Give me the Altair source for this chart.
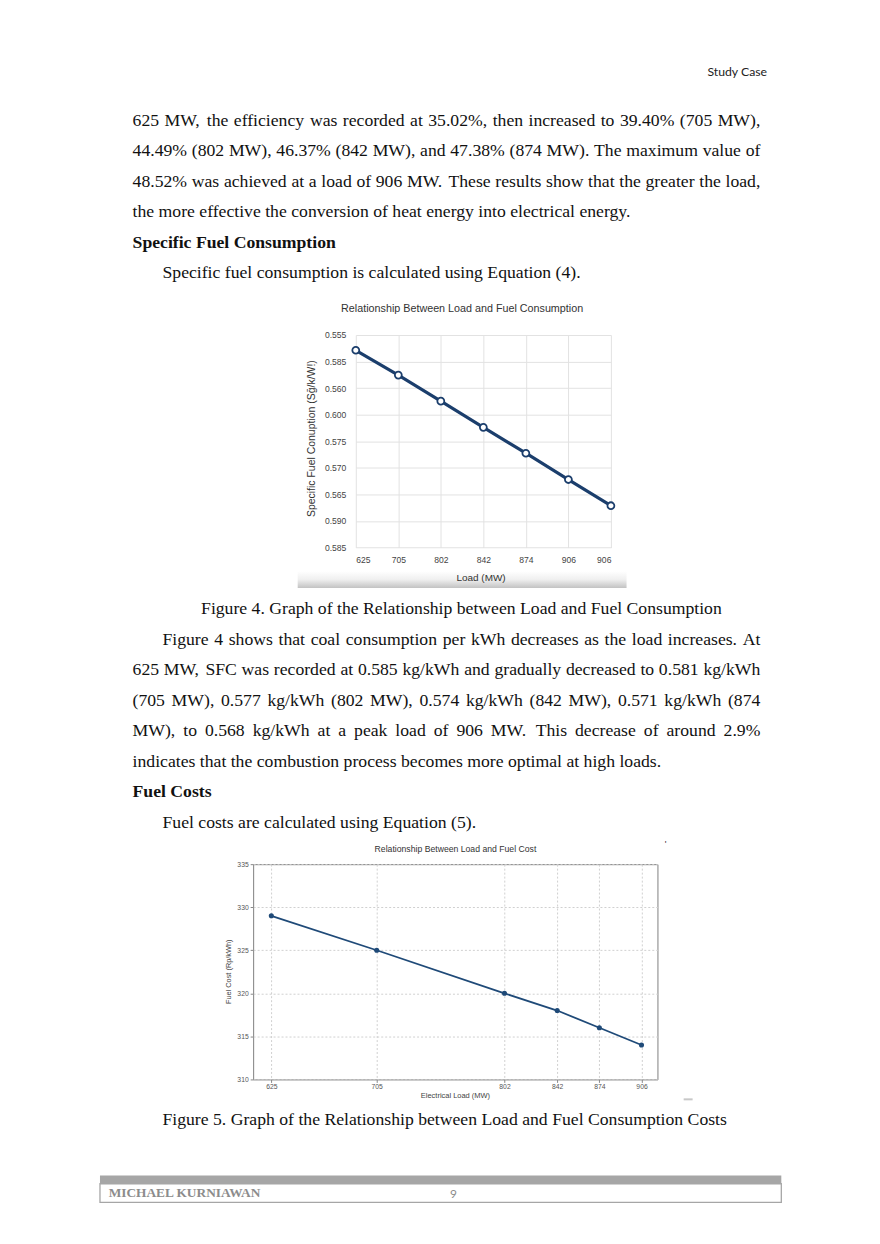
import json
import altair as alt
import pandas as pd

# ---------------- data ----------------
fig4_x_labels = ["625", "705", "802", "842", "874", "906", "906"]
fig4_y_labels = ["0.555", "0.585", "0.560", "0.600", "0.575", "0.570", "0.565", "0.590", "0.585"]
fig4_point_slot = [0.575, 1.51, 2.49, 3.475, 4.45, 5.44, 6.425]   # position in y-tick slots from top

fig5_load = [625, 705, 802, 842, 874, 906]
fig5_cost = [329, 325, 320, 318, 316, 314]
fig5_y_ticks = [310, 315, 320, 325, 330, 335]

para1 = [
    "625 MW, the efficiency was recorded at 35.02%, then increased to 39.40% (705 MW),",
    "44.49% (802 MW), 46.37% (842 MW), and 47.38% (874 MW). The maximum value of",
    "48.52% was achieved at a load of 906 MW. These results show that the greater the load,",
    "the more effective the conversion of heat energy into electrical energy.",
]
head1 = "Specific Fuel Consumption"
intro1 = "Specific fuel consumption is calculated using Equation (4)."
caption4 = "Figure 4. Graph of the Relationship between Load and Fuel Consumption"
para2 = [
    "Figure 4 shows that coal consumption per kWh decreases as the load increases. At",
    "625 MW, SFC was recorded at 0.585 kg/kWh and gradually decreased to 0.581 kg/kWh",
    "(705 MW), 0.577 kg/kWh (802 MW), 0.574 kg/kWh (842 MW), 0.571 kg/kWh (874",
    "MW), to 0.568 kg/kWh at a peak load of 906 MW. This decrease of around 2.9%",
    "indicates that the combustion process becomes more optimal at high loads.",
]
head2 = "Fuel Costs"
intro2 = "Fuel costs are calculated using Equation (5)."
caption5 = "Figure 5. Graph of the Relationship between Load and Fuel Consumption Costs"
header_text = "Study Case"
footer_name = "MICHAEL KURNIAWAN"
page_no = "9"

# ---------------- text layout helpers ----------------
TNR = {' ': 250, '!': 333, '%': 833, '(': 333, ')': 333, ',': 250, '-': 333, '.': 250, '/': 278, ':': 278,
       'A': 722, 'B': 667, 'C': 667, 'D': 722, 'E': 611, 'F': 556, 'G': 722, 'H': 722, 'I': 333, 'J': 389,
       'K': 722, 'L': 611, 'M': 889, 'N': 722, 'O': 722, 'P': 556, 'Q': 722, 'R': 667, 'S': 556, 'T': 611,
       'U': 722, 'V': 722, 'W': 944, 'X': 722, 'Y': 722, 'Z': 611,
       'a': 444, 'b': 500, 'c': 444, 'd': 500, 'e': 444, 'f': 333, 'g': 500, 'h': 500, 'i': 278, 'j': 278,
       'k': 500, 'l': 278, 'm': 778, 'n': 500, 'o': 500, 'p': 500, 'q': 500, 'r': 333, 's': 389, 't': 278,
       'u': 500, 'v': 500, 'w': 722, 'x': 500, 'y': 500, 'z': 444}
FS = 17.75
LEFT, INDENT, RIGHT = 130.0, 160.0, 760.0
PITCH = 30.6


def tw(s, size=FS):
    return sum(TNR.get(c, 500) for c in s) * size / 1000.0


def words_rows(line, x0, x1, y, justify):
    if not justify:
        return [{'px': x0, 'py': y, 't': line}]
    words = line.split(' ')
    widths = [tw(w) for w in words]
    gap = (x1 - x0 - sum(widths)) / (len(words) - 1)
    rows, x = [], x0
    for w, wd in zip(words, widths):
        rows.append({'px': x, 'py': y, 't': w})
        x += wd + gap
    return rows


def local(rows, ox, oy):
    return pd.DataFrame([{'px': r['px'] - ox, 'py': r['py'] - oy, 't': r['t']} for r in rows])


def text_layer(df, size=FS, weight='normal', font='Liberation Serif', color='#111111', align='left'):
    return alt.Chart(df).mark_text(align=align, baseline='alphabetic', font=font, fontSize=size,
                                   fontWeight=weight, color=color).encode(
        x=alt.X('px:Q', scale=None, axis=None), y=alt.Y('py:Q', scale=None, axis=None), text='t:N')


one = pd.DataFrame({'k': [0]})


def rect(x, x2, y, y2, **kw):
    return alt.Chart(one).mark_rect(**kw).encode(x=alt.value(x), x2=alt.value(x2), y=alt.value(y), y2=alt.value(y2))


def label(txt, x, y, size, font='Liberation Sans', color='#333333', angle=0):
    return alt.Chart(pd.DataFrame({'t': [txt]})).mark_text(
        font=font, fontSize=size, color=color, align='center', baseline='middle', angle=angle).encode(
        text='t:N', x=alt.value(x), y=alt.value(y))


# page geometry (page px)
M = 8.0
F4_L, F4_R, F4_T, F4_B = 353.3, 609.3, 334.0, 547.3
F5_L, F5_R, F5_T, F5_B = 251.0, 656.7, 865.0, 1081.0
PAGE_W = 864

# ---------------- Section A ----------------
oyA = M
rowsA, boldA = [], []
y = 124.0
for i, ln in enumerate(para1):
    rowsA += words_rows(ln, LEFT, RIGHT, y, i < len(para1) - 1)
    y += PITCH
boldA += words_rows(head1, LEFT, RIGHT, y, False)
y += PITCH
rowsA += words_rows(intro1, INDENT, RIGHT, y, False)

secA = alt.layer(
    text_layer(local(rowsA, M, oyA)),
    text_layer(local(boldA, M, oyA), weight='bold'),
    text_layer(pd.DataFrame({'px': [766.7 - M], 'py': [74 - oyA], 't': [header_text]}),
               size=12.3, font='Lato', color='#222222', align='right'),
).properties(width=PAGE_W, height=F4_T - M)

# ---------------- Figure 4 ----------------
navy4 = '#1b3e6c'
df4 = pd.DataFrame({'i': list(range(len(fig4_x_labels))), 'slot': fig4_point_slot})
xl4 = json.dumps(fig4_x_labels)
yl4 = json.dumps(fig4_y_labels)
base4 = alt.Chart(df4).encode(
    x=alt.X('i:Q', scale=alt.Scale(domain=[0, len(fig4_x_labels) - 1], nice=False, zero=False),
            axis=alt.Axis(values=list(range(len(fig4_x_labels))), labelExpr=f"{xl4}[datum.value]",
                          title=None, domain=False, ticks=False, grid=True, gridColor='#e2e2e2',
                          labelFont='Liberation Sans', labelFontSize=8.6, labelColor='#444444', labelPadding=8)),
    y=alt.Y('slot:Q', scale=alt.Scale(domain=[0, len(fig4_y_labels) - 1], reverse=True, nice=False, zero=False),
            axis=alt.Axis(values=list(range(len(fig4_y_labels))), labelExpr=f"{yl4}[datum.value]",
                          title=None, domain=False, ticks=False, grid=True,
                          gridColor='#e2e2e2', labelFont='Liberation Sans', labelFontSize=8.6,
                          labelColor='#444444', labelPadding=10)),
)
band4 = rect(295 - F4_L, 625 - F4_L, 571 - F4_T, 588 - F4_T,
             color=alt.LinearGradient(gradient='linear', x1=0, y1=0, x2=0, y2=1,
                                      stops=[alt.GradientStop(color='#ffffff', offset=0),
                                             alt.GradientStop(color='#efefef', offset=0.5),
                                             alt.GradientStop(color='#c2c2c2', offset=1)]))
fig4 = alt.layer(
    band4,
    base4.mark_line(color=navy4, strokeWidth=3.2),
    base4.mark_circle(fill='white', stroke=navy4, strokeWidth=1.8, size=48, opacity=1),
    label('Relationship Between Load and Fuel Consumption', 460 - F4_L, 308 - F4_T, 10.8),
    label('Load (MW)', 479 - F4_L, 578 - F4_T, 10),
    label('Specific Fuel Conuption (Sḡ/k/W!)', 309 - F4_L, 438 - F4_T, 10.5, angle=270),
).properties(width=F4_R - F4_L, height=F4_B - F4_T)

spacer4 = alt.Chart(one).mark_point(opacity=0).encode(x=alt.value(0), y=alt.value(0)).properties(
    width=F4_L - M, height=F4_B - F4_T)
row4 = alt.hconcat(spacer4, fig4, spacing=0, bounds='flush')

# ---------------- Section B ----------------
# (the nested row above takes no height in the flush layout, so this panel starts at the figure top)
oyB = F4_T
capB = [{'px': 460.0, 'py': 614.3, 't': caption4}]
rowsB, boldB = [], []
y = 645.0
for i, ln in enumerate(para2):
    x0 = INDENT if i == 0 else LEFT
    rowsB += words_rows(ln, x0, RIGHT, y, i < len(para2) - 1)
    y += PITCH
boldB += words_rows(head2, LEFT, RIGHT, y, False)
y += PITCH
rowsB += words_rows(intro2, INDENT, RIGHT, y, False)

secB = alt.layer(
    text_layer(local(rowsB, M, oyB)),
    text_layer(local(capB, M, oyB), align='center'),
    text_layer(local(boldB, M, oyB), weight='bold'),
    text_layer(pd.DataFrame({'px': [664 - M], 'py': [848 - oyB], 't': ["'"]}), size=9, font='Liberation Sans',
               color='#333333'),
).properties(width=PAGE_W, height=F5_T - F4_T)

# ---------------- Figure 5 ----------------
navy5 = '#1f4a78'
df5 = pd.DataFrame({'load': fig5_load, 'cost': fig5_cost})
ax_common = dict(domain=False, ticks=True, tickSize=3, tickColor='#888888', grid=True, gridColor='#d0d0d0',
                 gridDash=[2, 2], labelFont='Liberation Sans', labelFontSize=6.8, labelColor='#555555')
base5 = alt.Chart(df5).encode(
    x=alt.X('load:Q', scale=alt.Scale(domain=[611.2, 918.1], nice=False, zero=False),
            axis=alt.Axis(values=fig5_load, format='d', title=None, labelPadding=1.5, **ax_common)),
    y=alt.Y('cost:Q', scale=alt.Scale(domain=[fig5_y_ticks[0], fig5_y_ticks[-1]], nice=False, zero=False),
            axis=alt.Axis(values=fig5_y_ticks, format='d', title=None, labelPadding=2, **ax_common)),
)
fig5 = alt.layer(
    base5.mark_line(color=navy5, strokeWidth=1.8),
    base5.mark_circle(color=navy5, size=26, opacity=1),
    label('Relationship Between Load and Fuel Cost', 454 - F5_L, 850 - F5_T, 8.7),
    label('Electrical Load (MW)', 454 - F5_L, 1098 - F5_T, 7.5, color='#444444'),
    label('Fuel Cost (Rp/kWh)', 227 - F5_L, 973 - F5_T, 7.4, color='#444444', angle=270),
).properties(width=F5_R - F5_L, height=F5_B - F5_T,
             view=alt.ViewBackground(stroke='#808080', strokeWidth=1))

spacer5 = alt.Chart(one).mark_point(opacity=0).encode(x=alt.value(0), y=alt.value(0)).properties(
    width=F5_L - M, height=F5_B - F5_T)
row5 = alt.hconcat(spacer5, fig5, spacing=0, bounds='flush')

# ---------------- Section C ----------------
oyC = F5_T
capC = words_rows(caption5, INDENT, RIGHT, 1127.0, False)
secC = alt.layer(
    rect(683 - M, 692 - M, 1100 - oyC, 1102 - oyC, color='#c8c8c8'),
    rect(97.3 - M, 781 - M, 1177.3 - oyC, 1185.7 - oyC, color='#a6a6a6'),
    rect(97.3 - M, 781 - M, 1185.7 - oyC, 1204.3 - oyC, fill='white', stroke='#a6a6a6', strokeWidth=1.3),
    text_layer(local(capC, M, oyC)),
    text_layer(pd.DataFrame({'px': [106.0 - M], 'py': [1199 - oyC], 't': [footer_name]}), size=13.4,
               weight='bold', color='#8c8c8c'),
    text_layer(pd.DataFrame({'px': [452 - M], 'py': [1200 - oyC], 't': [page_no]}), size=12, font='Lato',
               color='#8c8c8c', align='center'),
).properties(width=PAGE_W, height=1236 - F5_T)

chart = alt.vconcat(secA, row4, secB, row5, secC, spacing=0, bounds='flush').properties(
    padding=0, background='white'
).configure_view(stroke=None)

chart.save("out.html", embed_options={"renderer": "svg", "actions": False})
